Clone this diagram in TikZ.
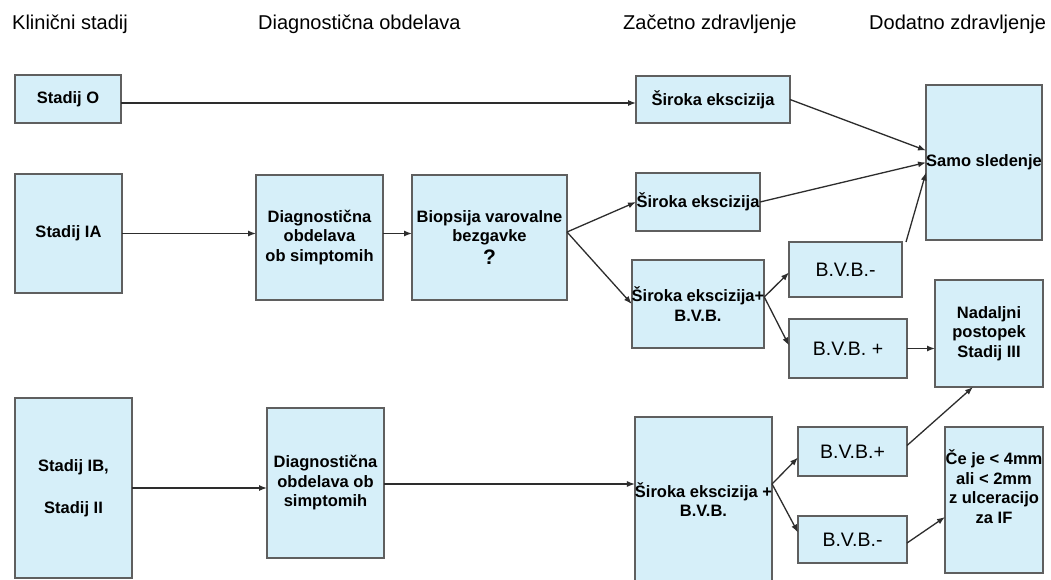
\documentclass[tikz,border=0pt]{standalone}
\usepackage{fontspec}
\setmainfont{Liberation Sans}
\usetikzlibrary{arrows.meta}
\definecolor{boxfill}{RGB}{214,239,249}
\definecolor{boxline}{RGB}{95,95,95}
\definecolor{arrline}{RGB}{45,45,45}

\begin{document}
\begin{tikzpicture}[x=1pt,y=-1pt,
  box/.style={draw=boxline,fill=boxfill,line width=1.6pt,inner sep=0pt,outer sep=0pt,
    align=center,font=\fontsize{16.5}{19.5}\selectfont\bfseries},
  bvb/.style={box,font=\fontsize{19.5}{22}\selectfont},
  head/.style={anchor=base west,inner sep=0pt,font=\fontsize{20}{24}\selectfont},
  arr/.style={draw=arrline,line width=1.3pt,-{Latex[length=8pt,width=6pt]}}]
  \fill[white] (0,0) rectangle (1051,580);
  \useasboundingbox (0,0) rectangle (1051,580);
  \clip (0,0) rectangle (1051,580);
  % column heads
  \node(hKlin)[head] at (12,30)  {Klinični stadij};
  \node(hDiag)[head] at (258,30) {Diagnostična obdelava};
  \node(hZac) [head] at (623,30) {Začetno zdravljenje};
  \node(hDod) [head] at (869,30) {Dodatno zdravljenje};
  % stages
  \node(stO) [box,minimum width=106pt,minimum height=48pt]  at (68,99)     {Stadij O};
  \node(stIA)[box,minimum width=107pt,minimum height=119pt] at (68.5,233.5) {Stadij IA};
  \node(stIB)[box,minimum width=117pt,minimum height=180pt] at (73.5,488)  {Stadij IB,\\[22pt]Stadij II};
  % diagnostics
  \node(diagA)[box,minimum width=127pt,minimum height=125pt] at (319.5,237.5) {Diagnostična\\obdelava\\ob simptomih};
  \node(biop) [box,minimum width=155pt,minimum height=125pt] at (489.5,237.5)
    {Biopsija varovalne\\bezgavke\\[3pt]{\fontsize{21}{24}\selectfont ?}};
  \node(diagB)[box,minimum width=117pt,minimum height=150pt] at (325.5,483)   {Diagnostična\\obdelava ob\\simptomih};
  % first treatment
  \node(sirA)[box,minimum width=154pt,minimum height=47pt]  at (713,99.5)  {Široka ekscizija};
  \node(sirB)[box,minimum width=124pt,minimum height=58pt]  at (698,202)   {Široka ekscizija};
  \node(sirC)[box,minimum width=126pt,minimum height=88pt]  at (698,304)   {Široka ekscizija+\\B.V.B.};
  \node(sirD)[box,minimum width=135pt,minimum height=165pt] at (703.5,499.5) {Široka ekscizija +\\B.V.B.};
  \node(bvbA)[bvb,minimum width=113pt,minimum height=55pt] at (845.5,269.5) {B.V.B.-};
  \node(bvbB)[bvb,minimum width=118pt,minimum height=59pt] at (848,348.5)   {B.V.B. +};
  \node(bvbC)[bvb,minimum width=109pt,minimum height=49pt] at (852.5,451.5) {B.V.B.+};
  \node(bvbD)[bvb,minimum width=109pt,minimum height=47pt] at (852.5,539.5) {B.V.B.-};
  % further treatment
  \node(samo)[box,minimum width=116pt,minimum height=155pt] at (984,162.5) {Samo sledenje};
  \node(nad) [box,minimum width=108pt,minimum height=107pt] at (989,333.5) {Nadaljni\\postopek\\Stadij III};
  \node(ceje)[box,minimum width=98pt,minimum height=146pt]  at (994,500)
    {\raisebox{0pt}[\height][\dimexpr\depth+21pt\relax]{\begin{tabular}{@{}c@{}}Če je < 4mm\\ali < 2mm\\z ulceracijo\\za IF\end{tabular}}};
  % fan points
  \coordinate (bfan) at ([yshift=5.5pt]biop.east);
  \coordinate (cfan) at ([yshift=7pt]sirC.east);
  \coordinate (dfan) at ([yshift=15.5pt]sirD.east);
  % connectors
  \draw[arr] ([yshift=-4pt]stO.east) -- ([yshift=-4pt]stO.east -| sirA.west);
  \draw[arr] (stIA.east) -- (stIA.east -| diagA.west);
  \draw[arr] (stIA.east -| diagA.east) -- (stIA.east -| biop.west);
  \draw[arr] (bfan) -- (sirB.west);
  \draw[arr] (bfan) -- (sirC.west);
  \draw[arr] (sirA.east) -- ([yshift=12pt]samo.west);
  \draw[arr] (sirB.east) -- (samo.west);
  \draw[arr] ([xshift=4pt]bvbA.north east) -- ([yshift=-10pt]samo.west);
  \draw[arr] (cfan) -- ([yshift=-3pt]bvbA.west);
  \draw[arr] (cfan) -- ([yshift=3pt]bvbB.west);
  \draw[arr] (bvbB.east) -- (bvbB.east -| nad.west);
  \draw[arr] (stIB.east) -- (stIB.east -| diagB.west);
  \draw[arr] ([yshift=-1pt]diagB.east) -- (dfan -| sirD.west);
  \draw[arr] (dfan) -- ([yshift=-6pt]bvbC.west);
  \draw[arr] (dfan) -- ([yshift=7pt]bvbD.west);
  \draw[arr] ([yshift=6pt]bvbC.east) -- ([xshift=-16pt]nad.south);
  \draw[arr] ([yshift=-3.5pt]bvbD.east) -- ([yshift=-17pt]ceje.west);
\end{tikzpicture}
\end{document}
